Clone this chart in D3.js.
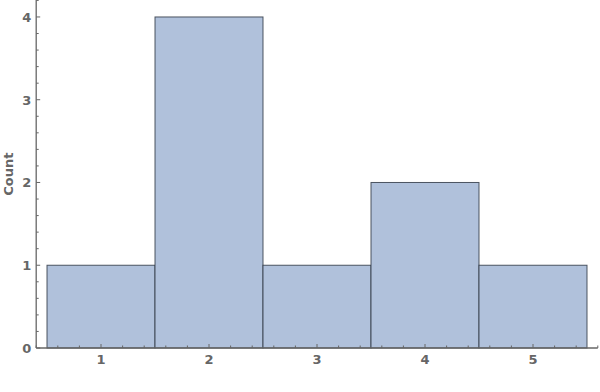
<!DOCTYPE html>
<html lang="en">
<head>
<meta charset="UTF-8">
<script src="https://d3js.org/d3.v7.min.js"></script>
<style>
  body { margin: 0; background: #fff; }
  text { font-family: "DejaVu Sans", sans-serif; font-weight: bold; fill: #666; }
</style>
</head>
<body>
<div id="canvas"></div>
<script>
// histogram bins and counts
const binStarts = [0.5, 1.5, 2.5, 3.5, 4.5]
const binWidth = 1
const counts = [1, 4, 1, 2, 1]
const xTicks = [1, 2, 3, 4, 5]
const yTicks = [0, 1, 2, 3, 4]

const W = 600, H = 392
const svg = d3.select("#canvas").append("svg").attr("width", W).attr("height", H)

const x = d3.scaleLinear().domain([0.4, 5.6]).range([36.2, 597.8])
const y = d3.scaleLinear().domain([0, 4.205]).range([348, 0])

const axisCol = "#666"

// bars
svg.selectAll(".bar").data(binStarts).enter().append("rect")
    .attr("x", (d) => x(d))
    .attr("y", (d, i) => y(counts[i]))
    .attr("width", (d) => x(d + binWidth) - x(d))
    .attr("height", (d, i) => y(0) - y(counts[i]))
    .attr("fill", "#b0c1db")
    .attr("stroke", "#333b48")
    .attr("stroke-opacity", 0.85)
    .attr("stroke-width", 1)

// minor ticks
const xMinor = d3.range(0.4, 5.61, 0.2).filter(v => !xTicks.some(t => Math.abs(t - v) < 1e-6))
const yMinor = d3.range(0, 4.21, 0.2).filter(v => !yTicks.some(t => Math.abs(t - v) < 1e-6))

const gx = svg.append("g").attr("transform", `translate(0,${y(0)})`)
gx.append("line").attr("x1", x.range()[0]).attr("x2", x.range()[1])
  .attr("stroke", axisCol).attr("stroke-width", 1.3)
gx.selectAll(".mj").data(xTicks).enter().append("line")
  .attr("x1", d => x(d)).attr("x2", d => x(d)).attr("y1", 0).attr("y2", -4)
  .attr("stroke", axisCol)
gx.selectAll(".mn").data(xMinor).enter().append("line")
  .attr("x1", d => x(d)).attr("x2", d => x(d)).attr("y1", 0).attr("y2", -2.5)
  .attr("stroke", axisCol)
gx.selectAll(".lb").data(xTicks).enter().append("text")
  .attr("x", d => x(d)).attr("y", 16)
  .attr("text-anchor", "middle").style("font-size", "13px")
  .text(d => d)

const gy = svg.append("g").attr("transform", `translate(${x.range()[0]},0)`)
gy.append("line").attr("y1", y(0)).attr("y2", 0)
  .attr("stroke", axisCol).attr("stroke-width", 1.3)
gy.selectAll(".mj").data(yTicks).enter().append("line")
  .attr("y1", d => y(d)).attr("y2", d => y(d)).attr("x1", 0).attr("x2", 4)
  .attr("stroke", axisCol)
gy.selectAll(".mn").data(yMinor).enter().append("line")
  .attr("y1", d => y(d)).attr("y2", d => y(d)).attr("x1", 0).attr("x2", 2.5)
  .attr("stroke", axisCol)
gy.selectAll(".lb").data(yTicks).enter().append("text")
  .attr("x", -5).attr("y", d => y(d) + 5)
  .attr("text-anchor", "end").style("font-size", "13px")
  .text(d => d)

svg.append("text")
  .attr("transform", `translate(13,${y(2.1)}) rotate(-90)`)
  .attr("text-anchor", "middle").style("font-size", "13px")
  .text("Count")
</script>
</body>
</html>
